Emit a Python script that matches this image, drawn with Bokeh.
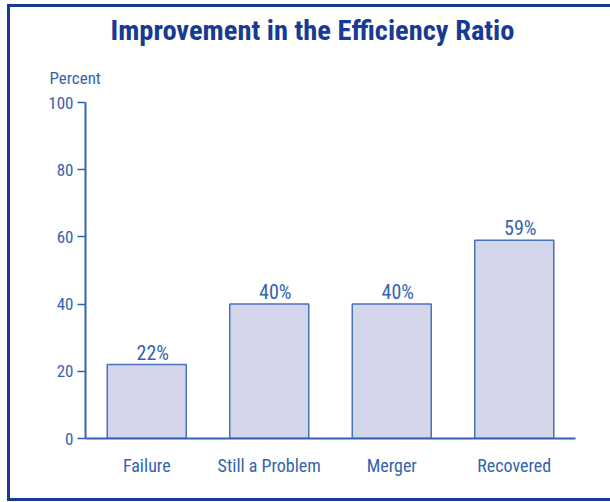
from bokeh.plotting import figure
from bokeh.models import Range1d, FixedTicker, LabelSet, ColumnDataSource, Title
from bokeh.core.properties import value
from bokeh.embed import file_html
from bokeh.resources import INLINE

categories = ["Failure", "Still a Problem", "Merger", "Recovered"]
values = [22, 40, 40, 59]
value_labels = ["22%", "40%", "40%", "59%"]
y_ticks = [0, 20, 40, 60, 80, 100]

FONT = "Roboto Condensed, DejaVu Sans Condensed, Liberation Sans Narrow, Roboto"
DARK = "#173a94"
BLUE = "#3563ad"

source = ColumnDataSource(dict(cat=categories, val=values, lab=value_labels))

p = figure(x_range=categories, y_range=Range1d(0, 100), width=610, height=502,
           output_backend="svg", toolbar_location=None,
           min_border_left=85, min_border_right=35, min_border_top=102, min_border_bottom=64)
p.outline_line_color = None
p.grid.visible = False
p.background_fill_color = "white"
p.border_fill_alpha = 0
p.styles = {
    "background": (
        f"linear-gradient({DARK},{DARK}) 7px 4px / 3px 497px no-repeat, "
        f"linear-gradient({DARK},{DARK}) 7px 4px / 603px 3px no-repeat, "
        f"linear-gradient({DARK},{DARK}) 7px 498px / 603px 3px no-repeat, white"
    )
}

p.title.text = "Improvement in the Efficiency Ratio"
p.title.align = "left"
p.title.offset = 25
p.title.standoff = 10
p.title.text_font = FONT
p.title.text_font_size = "28.5px"
p.title.text_font_style = "bold"
p.title.text_color = DARK

pct = Title(text="Percent", align="left", offset=-36, standoff=29, text_font=FONT,
            text_font_size="17px", text_font_style="normal", text_color=BLUE)
p.add_layout(pct, "above")

p.vbar(x="cat", top="val", width=0.645, source=source,
       fill_color="#d3d6ea", line_color="#4a70b8", line_width=1.5)

labels = LabelSet(x="cat", y="val", text="lab", source=source, text_align="center",
                  text_baseline="alphabetic", x_offset=6, y_offset=5, text_font=value(FONT),
                  text_font_size="20px", text_color=BLUE)
p.add_layout(labels)

ya = p.yaxis[0]
ya.ticker = FixedTicker(ticks=y_ticks)
ya.minor_tick_line_color = None
ya.major_tick_out = 8
ya.major_tick_in = 0
ya.major_tick_line_color = BLUE
ya.major_tick_line_width = 1.5
ya.axis_line_color = BLUE
ya.axis_line_width = 2
ya.major_label_text_font = FONT
ya.major_label_text_font_size = "17px"
ya.major_label_text_color = BLUE
ya.major_label_standoff = 4

xa = p.xaxis[0]
xa.major_tick_line_color = None
xa.minor_tick_line_color = None
xa.axis_line_color = BLUE
xa.axis_line_width = 2
xa.major_label_text_font = FONT
xa.major_label_text_font_size = "18px"
xa.major_label_text_color = BLUE
xa.major_label_standoff = 10

open("out.html", "w").write(file_html(p, INLINE))
